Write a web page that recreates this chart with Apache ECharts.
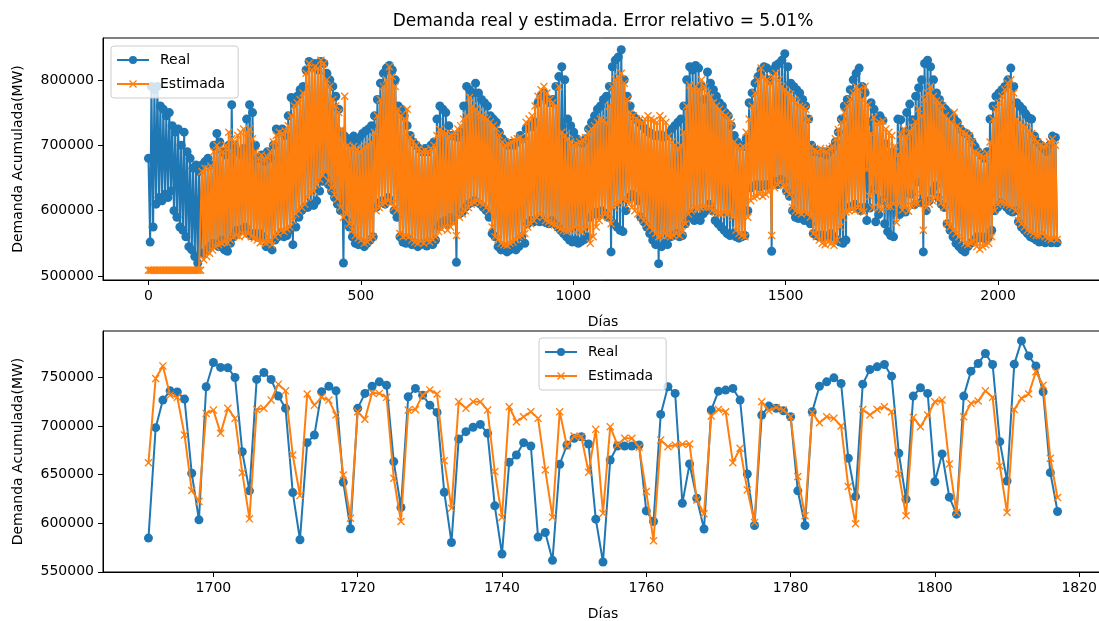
<!DOCTYPE html>
<html>
<head>
<meta charset="utf-8">
<script src="https://cdn.jsdelivr.net/npm/echarts@6/dist/echarts.min.js"></script>
<style>html,body{margin:0;padding:0;background:#fff}#c{width:1099px;height:621px}</style>
</head>
<body>
<div id="c"></div>
<script>
// ---------- DATA (values in thousands of MW) ----------
// Top panel: full history, one weekday high (day 7k) and one weekend low (day 7k+4) per week
const realWeekHighK = [
680,790,785,790,760,755,745,750,730,720,
725,700,720,690,680,665,670,660,
670,675,680,670,700,718,705,690,685,700,
762,700,690,685,695,740,762,750,700,680,
685,675,690,680,700,725,720,725,715,745,
773,765,775,785,790,815,828,820,825,815,
828,825,810,800,
790,775,755,720,714,705,710,714,705,712,
718,722,725,730,745,770,795,810,818,822,
815,800,760,755,745,730,715,705,700,695,
690,695,690,700,705,740,760,755,750,730,
715,714,712,720,760,790,785,780,795,780,
770,765,760,745,740,735,720,710,705,700,
703,700,705,715,
710,725,730,728,735,765,775,780,770,765,
770,790,805,820,800,740,730,720,710,705,
703,710,725,735,745,755,760,770,775,790,
820,830,835,846,800,775,760,745,740,735,
730,725,720,718,715,714,716,712,714,718,
725,730,735,740,760,800,820,815,822,818,
790,770,
812,795,785,775,765,760,750,745,730,715,
705,700,698,710,765,780,795,805,815,820,
818,800,815,822,825,830,840,820,795,790,
785,780,770,760,740,700,690,692,688,690,
685,690,695,705,720,740,760,770,785,800,
810,818,790,
780,736,765,755,741,745,738,702,683,689,
680,740,739,720,750,763,739,775,788,
800,825,830,820,800,780,770,760,755,750,
745,740,735,725,720,718,714,705,698,690,
685,680,690,740,760,775,780,785,790,800,
818,790,765,760,755,748,742,740,714,705,
700,695,690,700,714,712];
const realWeekLowK = [
552,575,610,620,615,625,620,630,600,590,
575,570,560,545,540,530,520,535,
535,540,545,550,548,545,555,540,538,550,
560,570,568,572,575,565,562,565,560,565,
560,545,550,540,555,560,565,560,562,570,
548,575,590,600,605,605,610,608,615,630,
645,650,640,630,
620,610,600,520,585,575,560,550,548,552,
545,550,555,560,605,612,615,610,620,615,
600,590,560,552,550,555,548,550,545,548,
550,546,552,548,555,575,582,585,580,590,
585,521,595,598,605,610,612,615,613,610,
605,600,590,565,560,545,540,545,537,540,
545,540,545,560,
550,580,585,583,585,583,585,582,580,585,
580,575,570,565,560,555,552,555,550,553,
556,560,590,595,598,595,600,596,590,537,
580,575,570,568,600,620,625,622,615,590,
583,575,565,555,548,519,545,550,548,560,
562,565,560,562,580,590,595,585,590,585,
595,600,
610,600,585,580,575,570,565,562,565,560,
558,560,562,600,635,638,640,636,640,638,
640,538,645,640,648,645,630,622,600,590,
588,590,585,588,580,565,562,560,563,560,
562,565,560,555,552,550,555,605,607,610,
605,600,605,
585,604,633,583,594,616,580,568,562,560,
602,594,598,598,627,625,609,644,612,
537,600,615,630,638,620,610,605,580,570,
560,550,545,540,537,545,550,555,560,558,
560,556,560,570,600,605,612,610,605,600,
598,600,583,575,570,565,560,558,555,552,
555,551,553,551,552,551];
const estWeekHighK = [
509,509,509,509,509,509,509,509,509,509,
509,509,509,509,509,509,509,509,
660,665,664,668,690,700,695,690,700,720,
710,705,715,720,725,718,725,710,690,680,
685,678,682,690,705,715,720,718,722,730,
745,760,765,770,780,810,825,815,820,818,
830,825,800,790,
770,760,750,725,775,700,695,698,692,690,
695,698,700,705,720,745,770,790,800,820,
805,790,755,745,740,755,712,705,700,695,
690,692,690,695,700,715,724,720,718,714,
715,720,725,730,740,745,773,760,755,750,
745,742,740,735,730,725,715,705,700,702,
705,708,710,712,
708,735,740,745,760,775,785,790,780,770,
765,760,790,720,715,710,705,700,702,705,
708,712,720,725,730,735,740,738,735,760,
790,800,805,810,795,770,750,745,740,738,
735,740,745,740,738,735,745,740,735,714,
705,700,695,700,720,760,792,785,790,785,
800,790,
780,773,765,760,755,750,745,742,735,705,
698,695,698,720,740,760,780,800,818,805,
800,795,805,810,800,790,785,780,778,770,
765,760,758,755,740,698,692,690,695,692,
690,695,698,710,724,735,750,760,770,780,
790,785,770,
790,762,718,743,733,734,737,725,720,715,
699,686,717,725,713,720,727,736,756,
745,770,780,790,775,768,765,760,745,740,
735,750,730,725,720,718,714,705,690,688,
685,682,688,705,740,755,765,775,785,795,
800,780,740,735,730,728,722,718,710,705,
700,698,700,705,710,700];
const estWeekLowK = [
509,509,509,509,509,509,509,509,509,509,
509,509,509,509,509,509,509,509,
525,530,535,540,545,548,550,552,551,555,
560,562,560,565,562,565,560,558,555,551,
553,550,552,548,560,565,570,568,572,575,
585,595,600,605,610,620,628,630,640,648,
655,660,645,635,
625,618,605,590,595,580,570,562,558,555,
550,552,556,560,600,605,610,612,615,612,
605,600,565,560,562,560,555,552,550,553,
550,555,552,556,560,568,572,575,570,575,
580,562,590,595,600,605,610,613,615,612,
610,605,600,575,560,556,550,548,547,550,
552,556,560,562,
565,575,580,585,590,595,590,585,583,580,
578,575,572,570,568,570,572,575,570,568,
572,575,550,560,575,585,590,595,590,580,
605,610,612,618,615,610,605,600,595,590,
585,580,575,570,565,560,562,565,562,560,
562,565,562,568,580,595,600,605,603,605,
606,605,
605,600,598,596,595,597,595,598,590,570,
565,562,560,590,615,620,622,625,622,625,
628,562,635,640,643,638,630,625,605,600,
598,595,598,596,590,565,560,555,550,548,
552,550,547,555,575,590,598,600,602,600,
605,600,598,
662,622,604,628,605,602,615,606,606,610,
582,610,601,608,599,608,611,611,626,
570,605,610,615,620,618,612,605,580,575,
570,565,560,555,550,548,550,553,545,541,
545,548,550,560,600,610,613,612,610,608,
605,600,585,580,575,570,568,565,562,562,
565,560,558,556,558,556];

// Bottom panel: daily values, days 1691..1817
const zoomFirstDay = 1691;
const zoomRealK = [
584.7,698.3,726.7,736.2,735,727.7,651.4,603.5,740.4,765.4,
760.3,760,750,673.6,633.3,748,755.1,748,730.8,718.2,
631.5,583,682.9,690.8,735.2,741,736.2,642.2,594.3,718.2,
733.6,741,745.5,742,663.4,616.2,730.1,738.7,731.8,721.5,
714,631.9,580.2,686.7,694.2,698.7,701.7,692.5,617.9,568.3,
662.7,670.2,682.9,679.5,585.7,590.5,561.8,660.7,680.5,687.4,
689,681.5,604.2,560.1,665.1,679.5,679.5,679.5,680.5,612.7,
601.8,712,740.4,733.6,620.6,661,625.7,594,716.4,735.9,
737,738.7,726.7,650.7,597.6,711.3,720.5,718.2,715.7,709.6,
633.3,597.6,714.7,741,745.5,749.6,743.8,666.8,627.4,743.1,
758.2,760.9,763.3,751.3,672,624.7,730.8,739.4,733.6,642.8,
671.3,626.8,609.3,730.8,756.5,764.4,774.6,763.3,683.9,643.5,
763.7,787.6,772.2,761.9,735.2,652,612];
const zoomEstK = [
662.3,749,761.9,731.8,729.5,690.8,633.6,622.3,713,716.4,
692.5,718.2,707.9,652,604.5,717.1,718.2,726.7,743.1,736.2,
670.2,628.4,732.9,721.5,729.5,726.7,711.3,649.7,605.2,714.7,
706.9,734.2,733.6,729.5,646.3,601.8,716.4,717.1,731.8,737.2,
732.9,664.4,615.5,725,718.2,725,725,716.4,653.1,606.2,
719.9,704.4,709.6,714.7,707.9,654.8,606.2,714.7,679.5,689.7,
689,652.5,696.6,610.3,699.3,680.5,687.4,687.4,678.1,632.6,
581.9,685.6,678.8,680.5,681.2,681.5,624,609.7,710.3,717.1,
714.7,662.3,677.1,634.3,600.8,725,715.7,719.2,716.4,709.6,
648,607.6,713.7,703.4,709.6,707.9,700,637.7,599.4,717.1,
711.3,717.1,719.9,714.7,650.7,607.6,708.9,699.3,711.3,725,
726.7,661,611,709.6,723.3,725.7,736.2,729.5,659,611,
717.1,728.5,732.9,755.8,742,666.8,626.4];

const topXTicks = [0, 500, 1000, 1500, 2000];
const topYTicks = [500000, 600000, 700000, 800000];
const botXTicks = [1700, 1720, 1740, 1760, 1780, 1800, 1820];
const botYTicks = [550000, 600000, 650000, 700000, 750000];

const titleText = 'Demanda real y estimada. Error relativo = 5.01%';
const yName = 'Demanda Acumulada(MW)';
const xName = 'Días';
const names = ['Real', 'Estimada'];

// ---------- BUILD ----------
function weekly(high, low) {
  const out = [];
  for (let k = 0; k < high.length; k++) {
    out.push([k * 7, high[k] * 1000]);
    out.push([k * 7 + 4, low[k] * 1000]);
  }
  return out;
}
function daily(first, vals) {
  return vals.map((v, i) => [first + i, Math.round(v * 1000)]);
}

const BLUE = '#1f77b4', ORANGE = '#ff7f0e';
const FONT = 'DejaVu Sans';
const XSYM = 'path://M0,1.2L1.2,0L5,3.8L8.8,0L10,1.2L6.2,5L10,8.8L8.8,10L5,6.2L1.2,10L0,8.8L3.8,5Z';

function xAxis(idx, min, max, ticks) {
  return {
    type: 'value', gridIndex: idx, min: min, max: max,
    name: xName, nameLocation: 'middle', nameGap: 35,
    nameTextStyle: {fontFamily: FONT, fontSize: 14, color: '#000'},
    axisLine: {show: true, onZero: false, lineStyle: {color: '#000', width: 1}},
    axisTick: {show: true, length: 5, inside: false, customValues: ticks, lineStyle: {color: '#000', width: 1}},
    axisLabel: {show: true, customValues: ticks, margin: 9, fontFamily: FONT, fontSize: 14, color: '#000', formatter: v => String(v)},
    splitLine: {show: false}
  };
}
function yAxis(idx, min, max, ticks) {
  return {
    type: 'value', gridIndex: idx, min: min, max: max,
    name: yName, nameLocation: 'middle', nameGap: 78, nameRotate: 90,
    nameTextStyle: {fontFamily: FONT, fontSize: 14, color: '#000'},
    axisLine: {show: true, onZero: false, lineStyle: {color: '#000', width: 1}},
    axisTick: {show: true, length: 5, inside: false, customValues: ticks, lineStyle: {color: '#000', width: 1}},
    axisLabel: {show: true, customValues: ticks, margin: 9, fontFamily: FONT, fontSize: 14, color: '#000', formatter: v => String(v)},
    splitLine: {show: false}
  };
}
function lineSeries(name, idx, data, isEst, z) {
  return {
    name: name, type: 'line', xAxisIndex: idx, yAxisIndex: idx, data: data,
    symbol: isEst ? XSYM : 'circle', symbolSize: isEst ? 8 : 9, showSymbol: true, showAllSymbol: true,
    lineStyle: {color: isEst ? ORANGE : BLUE, width: 2},
    itemStyle: {color: isEst ? ORANGE : BLUE},
    emphasis: {disabled: true}, animation: false, z: z, silent: true
  };
}
function legend(left, top) {
  return {
    data: names, orient: 'vertical', left: left, top: top,
    itemWidth: 32, itemHeight: 10, itemGap: 10,
    padding: [7, 13, 7, 5],
    backgroundColor: 'rgba(255,255,255,0.8)', borderColor: '#cccccc', borderWidth: 1, borderRadius: 3,
    textStyle: {fontFamily: FONT, fontSize: 14, color: '#000', padding: [0, 0, 0, 6]},
    selectedMode: false
  };
}

const chart = echarts.init(document.getElementById('c'), null, {renderer: 'canvas'});
chart.setOption({
  animation: false,
  backgroundColor: '#fff',
  title: {
    text: titleText, left: 603, top: 13, padding: 0, textAlign: 'center',
    textStyle: {fontFamily: FONT, fontSize: 17, fontWeight: 'normal', color: '#000'}
  },
  grid: [
    {left: 103, top: 38, width: 1000, height: 242, show: true, borderColor: '#000', borderWidth: 1, backgroundColor: 'transparent', outerBoundsMode: 'none'},
    {left: 103, top: 331, width: 1000, height: 241, show: true, borderColor: '#000', borderWidth: 1, backgroundColor: 'transparent', outerBoundsMode: 'none'}
  ],
  xAxis: [xAxis(0, -107, 2247, topXTicks), xAxis(1, 1684.7, 1823.3, botXTicks)],
  yAxis: [yAxis(0, 494000, 864000, topYTicks), yAxis(1, 549800, 797800, botYTicks)],
  legend: [legend(111, 46), legend(539, 338)],
  series: [
    lineSeries(names[0], 0, weekly(realWeekHighK, realWeekLowK), false, 2),
    lineSeries(names[1], 0, weekly(estWeekHighK, estWeekLowK), true, 3),
    lineSeries(names[0], 1, daily(zoomFirstDay, zoomRealK), false, 2),
    lineSeries(names[1], 1, daily(zoomFirstDay, zoomEstK), true, 3)
  ]
});
</script>
</body>
</html>
